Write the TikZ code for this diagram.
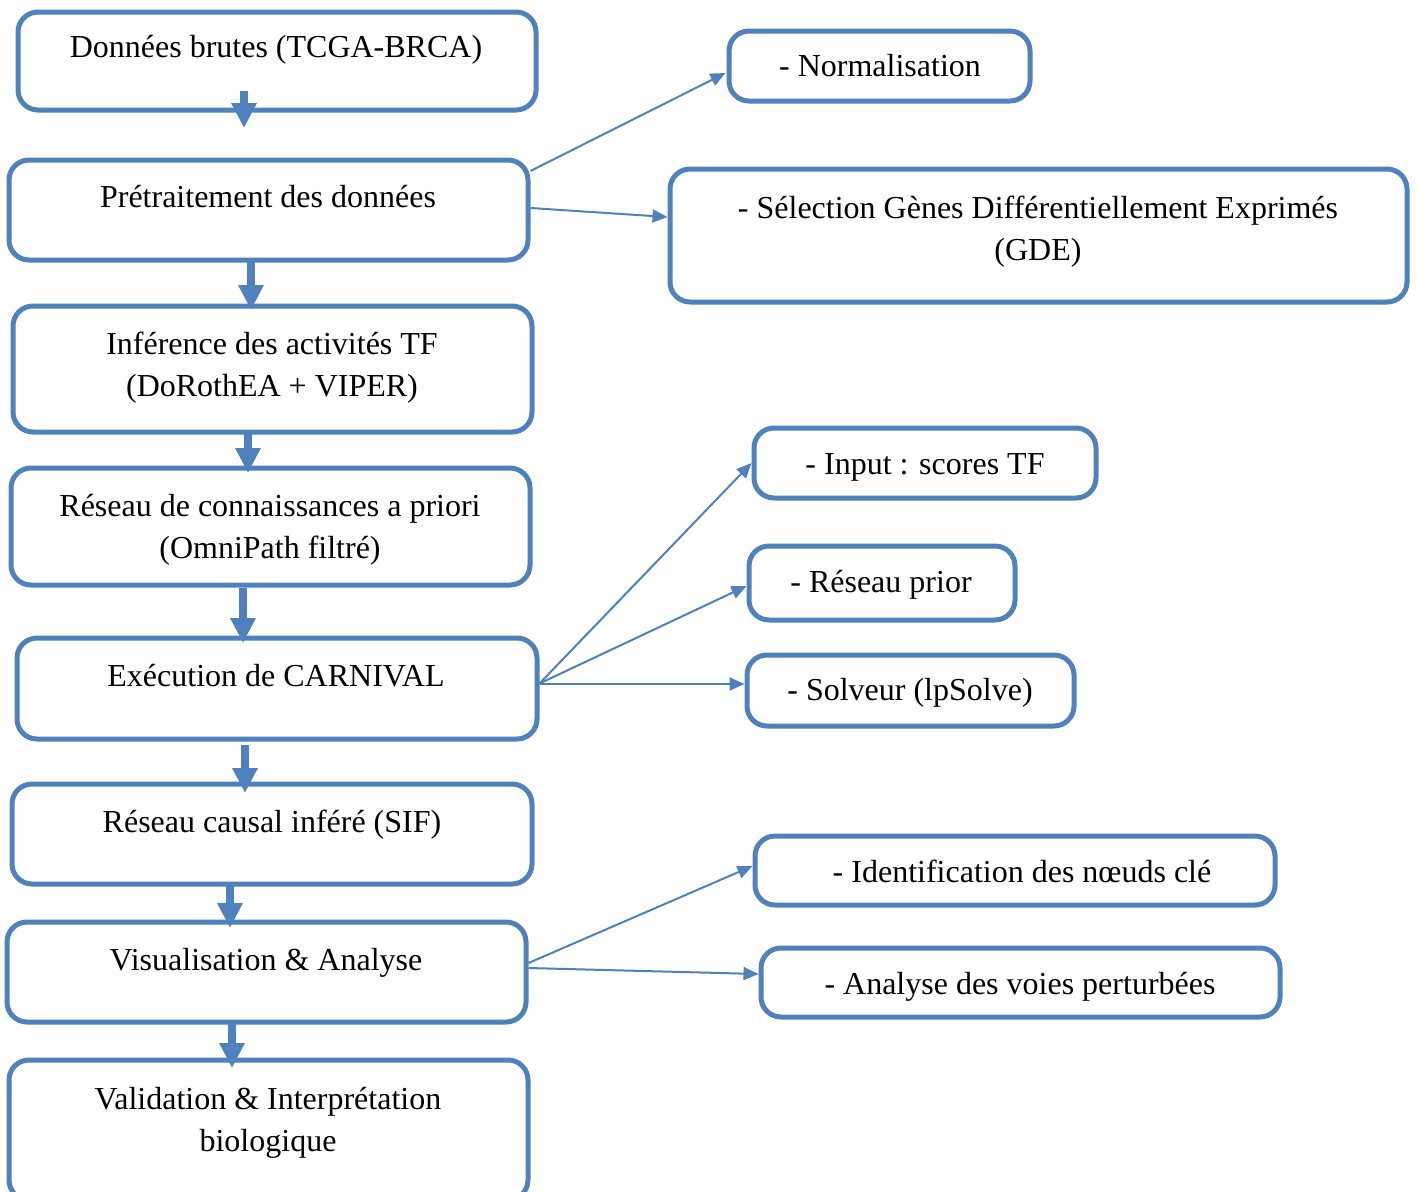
\documentclass[tikz,border=0pt]{standalone}
\usepackage{fontspec}
\setmainfont{Liberation Serif}
\usetikzlibrary{arrows.meta,calc}
\definecolor{flow}{RGB}{79,129,189}
\tikzset{
  box/.style={draw=flow, line width=5pt, rounded corners=20pt, inner sep=0pt, fill=white},
  lbl/.style={font=\fontsize{32}{42}\selectfont, align=center, inner sep=0pt, anchor=base},
  bigarrow/.style={draw=flow, line width=8pt, -{Triangle[length=25pt,width=24pt]}},
  thinarrow/.style={draw=flow, line width=2pt, -{Triangle[length=15pt,width=13pt]}},
}
\begin{document}
\begin{tikzpicture}[x=1pt,y=-1pt]
\useasboundingbox (0,0) rectangle (1418,1191);
\fill[white] (0,0) rectangle (1418,1191);

% main pipeline boxes
\node[box, minimum width=518pt, minimum height=98pt]  (b1) at (277,61) {};
\node[box, minimum width=519pt, minimum height=100pt] (b2) at (268.5,210) {};
\node[box, minimum width=519pt, minimum height=126pt] (b3) at (272.5,369) {};
\node[box, minimum width=519pt, minimum height=117pt] (b4) at (270.5,526.5) {};
\node[box, minimum width=520pt, minimum height=101pt] (b5) at (277,688.5) {};
\node[box, minimum width=520pt, minimum height=100pt] (b6) at (272,834) {};
\node[box, minimum width=519pt, minimum height=100pt] (b7) at (266.5,972) {};
\node[box, minimum width=519pt, minimum height=140pt] (b8) at (268.5,1130) {};

% side boxes
\node[box, minimum width=301pt, minimum height=70pt]  (norm) at (879.5,66) {};
\node[box, minimum width=737pt, minimum height=133pt] (sel)  at (1038.5,235.5) {};
\node[box, minimum width=342pt, minimum height=70pt]  (inp)  at (925,463) {};
\node[box, minimum width=266pt, minimum height=74pt]  (pri)  at (882,583) {};
\node[box, minimum width=327pt, minimum height=71pt]  (sol)  at (910.5,690.5) {};
\node[box, minimum width=520pt, minimum height=69pt]  (idn)  at (1015,870.5) {};
\node[box, minimum width=519pt, minimum height=69pt]  (ana)  at (1020.5,982.5) {};

% labels (base anchor = baseline of the last line)
\node[lbl] (t1) at (276,57)  {Données brutes (TCGA-BRCA)};
\node[lbl] (t2) at (268,207) {Prétraitement des données};
\node[lbl] (t3) at (272,396) {Inférence des activités TF\\(DoRothEA + VIPER)};
\node[lbl] (t4) at (270,558) {Réseau de connaissances a priori\\(OmniPath filtré)};
\node[lbl] (t5) at (276,686) {Exécution de CARNIVAL};
\node[lbl] (t6) at (272,832) {Réseau causal inféré (SIF)};
\node[lbl] (t7) at (266,970) {Visualisation \& Analyse};
\node[lbl] (t8) at (268,1151) {Validation \& Interprétation\\biologique};

\node[lbl] (s1) at (880,76)   {- Normalisation};
\node[lbl] (s2) at (1038,260) {- Sélection Gènes Différentiellement Exprimés\\(GDE)};
\node[lbl] (s3) at (925,474)  {- Input : scores TF};
\node[lbl] (s4) at (881,592)  {- Réseau prior};
\node[lbl] (s5) at (910,700)  {- Solveur (lpSolve)};
\node[lbl] (s6) at (1022,882) {- Identification des nœuds clé};
\node[lbl] (s7) at (1020,994) {- Analyse des voies perturbées};

% main flow arrows
\draw[bigarrow] ($(b1.south)+(-33,-21.5)$) -- ($(b2.north)+(-24.5,-29.5)$);
\draw[bigarrow] ($(b2.south)+(-17.5,-2.5)$) -- ($(b3.north)+(-21.5,6.5)$);
\draw[bigarrow] ($(b3.south)+(-24.5,-2.5)$) -- ($(b4.north)+(-22.5,7.5)$);
\draw[bigarrow] ($(b4.south)+(-27.5,0.5)$)  -- ($(b5.north)+(-34,7.5)$);
\draw[bigarrow] ($(b5.south)+(-32,3.5)$)    -- ($(b6.north)+(-27,11.5)$);
\draw[bigarrow] ($(b6.south)+(-42,-2.5)$)   -- ($(b7.north)+(-36.5,8.5)$);
\draw[bigarrow] ($(b7.south)+(-34.5,-2.5)$) -- ($(b8.north)+(-36.5,10.5)$);

% side arrows
\draw[thinarrow] ($(b2.east)+(0,-39)$) -- ($(norm.west)+(-1,7)$);
\draw[thinarrow] ($(b2.east)+(0,-2)$)  -- ($(sel.west)+(0,-18.5)$);
\draw[thinarrow] ($(b5.east)+(0,-5)$)  -- ($(inp.west)+(0,0)$);
\draw[thinarrow] ($(b5.east)+(0,-5)$)  -- ($(pri.west)+(0,3)$);
\draw[thinarrow] ($(b5.east)+(0,-4.5)$) -- ($(sol.west)+(0,-6.5)$);
\draw[thinarrow] ($(b7.east)+(0,-9)$)  -- ($(idn.west)+(0,-4.5)$);
\draw[thinarrow] ($(b7.east)+(0,-4)$)  -- ($(ana.west)+(0,-8.5)$);
\end{tikzpicture}
\end{document}
